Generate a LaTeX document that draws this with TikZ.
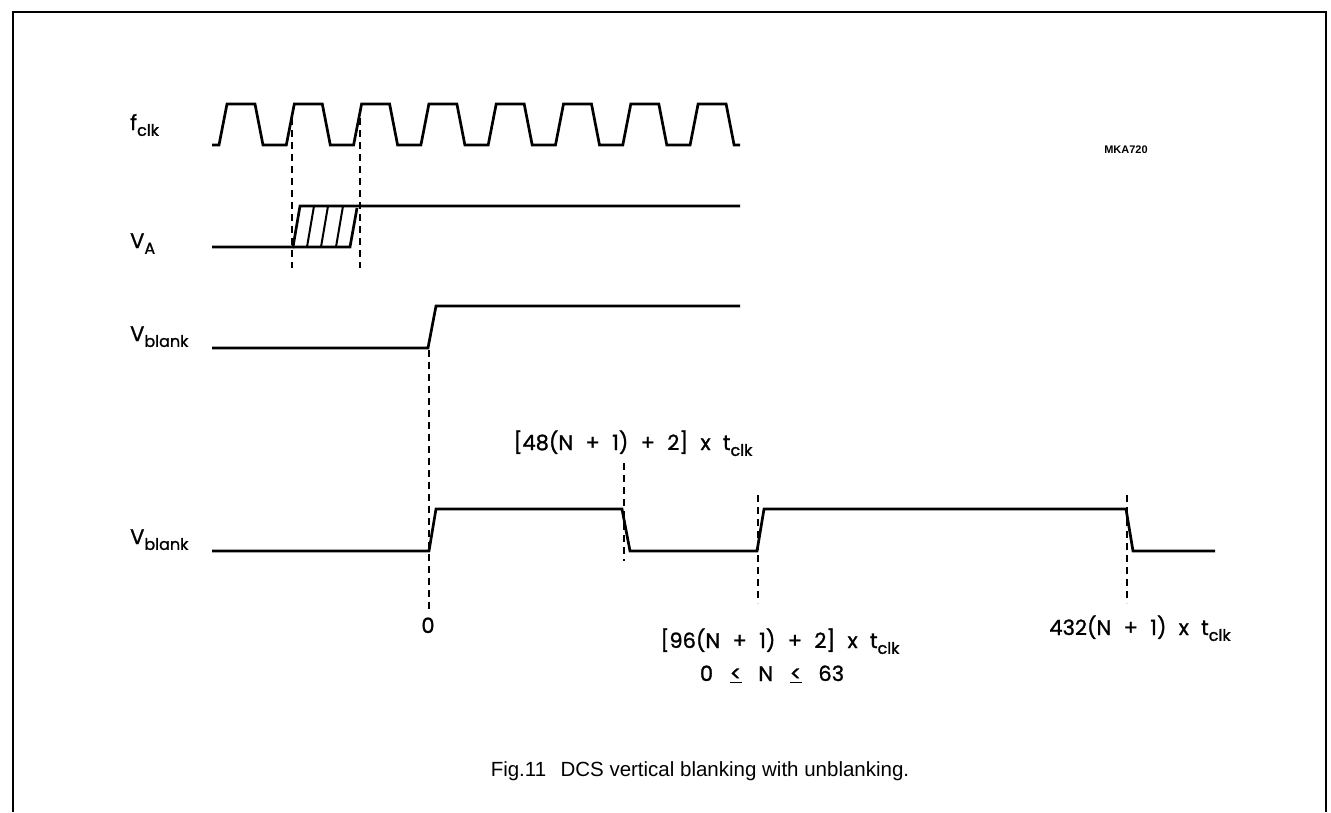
\documentclass[tikz,border=0pt]{standalone}
\usepackage{fontspec}
\setmainfont{Liberation Sans}
\newfontfamily\geo[FakeBold=1.2]{Poppins}
\newcommand{\lowsub}[1]{\raisebox{-0.28em}{\fontsize{16}{18}\selectfont #1}}
\newcommand{\gp}{\hspace{0.585em}}
\newcommand{\wgp}{\hspace{0.8em}}
\newcommand{\uleq}{\underline{\smash{<}}}
\begin{document}
\begin{tikzpicture}[x=1pt,y=-1pt,
  wave/.style={line width=2.7pt, line join=miter},
  guide/.style={line width=1.8pt, dash pattern=on 7pt off 5pt},
  lbl/.style={font=\geo\fontsize{21}{25}\selectfont, inner sep=0pt},
  capt/.style={font=\fontsize{20.5}{24}\selectfont, inner sep=0pt},
  tag/.style={font=\bfseries\fontsize{11}{13}\selectfont, inner sep=0pt}]
\useasboundingbox (0,0) rectangle (1331,812);
% frame
\draw[line width=2.4pt] (13,812) -- (13,12) -- (1326,12) -- (1326,812);
% left labels
\node[lbl, anchor=base west] (lf) at (130,130) {f\lowsub{clk}};
\node[lbl, anchor=base west] (lva) at (130,248) {V\lowsub{A}};
\node[lbl, anchor=base west] (lvb1) at (130,341) {V\lowsub{blank}};
\node[lbl, anchor=base west] (lvb2) at (130,544) {V\lowsub{blank}};
\node[tag] (mka) at (1126,150) {MKA720};
% fclk
\draw[wave] (212,145) \foreach \k in {0,...,7}{ -- ({219+67.3*\k},145) -- ({227+67.3*\k},104) -- ({255+67.3*\k},104) -- ({263+67.3*\k},145)} -- (740,145);
% VA
\draw[wave] (212,247) -- (293,247) -- (300,206) -- (740,206);
\draw[wave] (293,247) -- (350,247) -- (357,208);
\draw[line width=2pt] (307,247) -- (314,206) (321,247) -- (328,206) (336,247) -- (343,206);
\draw[guide] (292,118) -- (292,268);
\draw[guide] (360,118) -- (360,268);
% Vblank 1
\draw[wave] (212,348) -- (428,348) -- (436,306) -- (740,306);
% Vblank 2
\draw[wave] (212,551) -- (429,551) -- (436,509) -- (622,509) -- (630,551) -- (757,551) -- (764,509) -- (1126,509) -- (1133,551) -- (1215,551);
% guides
\coordinate (g0a) at (429,350);
\coordinate (g0b) at (429,612);
\draw[guide] (g0a) -- (g0b);
\draw[guide] (624,463) -- (624,561);
\draw[guide] (758,495) -- (758,603);
\draw[guide] (1127,495) -- (1127,603);
% labels
\node[lbl, anchor=base] (z0) at (428,633) {0};
\node[lbl, anchor=base] (l48) at (633,450) {[48(N\gp+\gp1)\gp+\gp2]\gp x\gp t\lowsub{clk}};
\node[lbl, anchor=base] (l96) at (780,648) {[96(N\gp+\gp1)\gp+\gp2]\gp x\gp t\lowsub{clk}};
\node[lbl, anchor=base] (lrng) at (772,681) {0\wgp\uleq\wgp N\wgp\uleq\wgp 63};
\node[lbl, anchor=base] (l432) at (1140,635) {432(N\gp+\gp1)\gp x\gp t\lowsub{clk}};
\node[capt, anchor=base] (cap) at (700,776) {Fig.11\hspace{0.7em}DCS vertical blanking with unblanking.};
\end{tikzpicture}
\end{document}
